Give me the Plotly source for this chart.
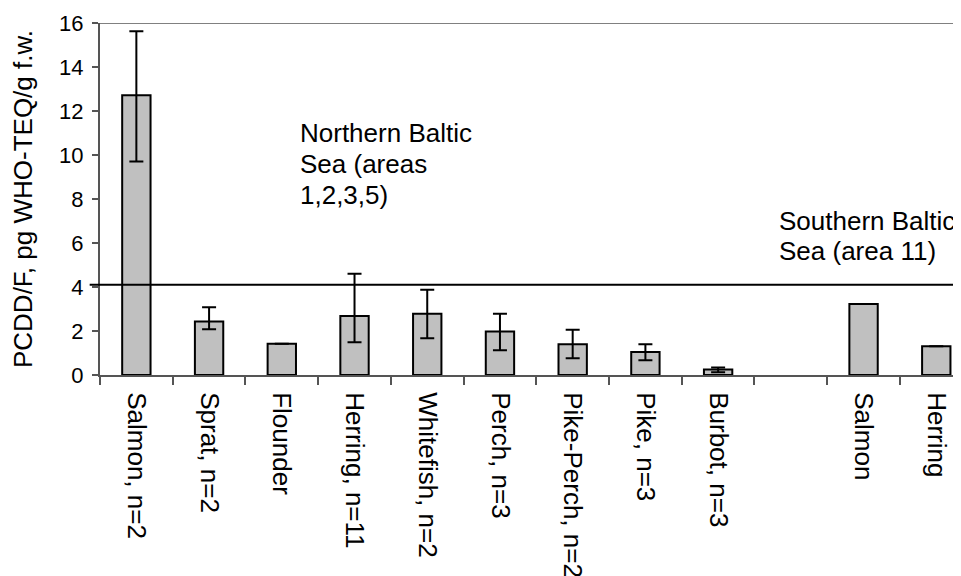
import plotly.graph_objects as go

categories = ["Salmon, n=2", "Sprat, n=2", "Flounder", "Herring, n=11", "Whitefish, n=2",
              "Perch, n=3", "Pike-Perch, n=2", "Pike, n=3", "Burbot, n=3", " ", "Salmon", "Herring"]
values = [12.72, 2.43, 1.42, 2.68, 2.78, 1.98, 1.40, 1.04, 0.25, None, 3.23, 1.31]
err_plus = [2.90, 0.65, 0, 1.92, 1.10, 0.80, 0.66, 0.36, 0.09, None, 0, 0]
err_minus = [3.02, 0.35, 0, 1.19, 1.11, 0.85, 0.64, 0.37, 0.12, None, 0, 0]
limit_value = 4.1
y_ticks = [0, 2, 4, 6, 8, 10, 12, 14, 16]
north_lines = ["Northern Baltic", "Sea (areas", "1,2,3,5)"]
south_lines = ["Southern Baltic", "Sea (area 11)"]

FONT = "Liberation Sans, Arial, sans-serif"

fig = go.Figure()
fig.add_trace(go.Bar(
    x=categories, y=values, width=0.39,
    marker=dict(color="#c0c0c0", line=dict(color="black", width=2)),
    error_y=dict(type="data", array=err_plus, arrayminus=err_minus, symmetric=False,
                 color="black", thickness=2, width=7),
    showlegend=False,
))

fig.add_shape(type="line", xref="paper", yref="y", x0=-0.012, x1=1, y0=limit_value, y1=limit_value,
              line=dict(color="black", width=2))
fig.add_shape(type="line", xref="paper", yref="y", x0=0, x1=1, y0=16, y1=16,
              line=dict(color="#808080", width=2))

for i, line in enumerate(north_lines):
    fig.add_annotation(text=line, xref="paper", yref="y", x=0.230, y=11.0 - 1.41 * i,
                       xanchor="left", yanchor="middle", align="left", showarrow=False,
                       font=dict(family=FONT, size=26, color="black"))
for i, line in enumerate(south_lines):
    fig.add_annotation(text=line, xref="paper", yref="y", x=0.7865, y=7.0 - 1.38 * i,
                       xanchor="left", yanchor="middle", align="left", showarrow=False,
                       font=dict(family=FONT, size=26, color="black"))

fig.update_layout(
    width=953, height=568,
    margin=dict(l=92, r=0, t=15, b=201),
    paper_bgcolor="white", plot_bgcolor="white",
    font=dict(family=FONT, color="black"),
    bargap=0.6,
)
fig.update_xaxes(
    type="category", categoryorder="array", categoryarray=categories, automargin=False,
    range=[-0.5, 11.34], tickson="boundaries", ticks="outside", ticklen=8, tickwidth=1.5,
    tickcolor="#555555", showline=True, linecolor="#555555", linewidth=2, ticklabelstandoff=10,
    tickangle=90, tickfont=dict(family=FONT, size=26, color="black"), showgrid=False,
)
fig.update_yaxes(
    range=[0, 16], tickvals=y_ticks, ticks="outside", ticklen=6, tickwidth=1.5, automargin=False,
    tickcolor="#555555", showline=True, linecolor="#555555", linewidth=2, showgrid=False,
    zeroline=False, tickfont=dict(family=FONT, size=22, color="black"), ticklabelstandoff=4,
    title=dict(text="PCDD/F, pg WHO-TEQ/g f.w.", font=dict(family=FONT, size=26, color="black"),
               standoff=20),
)

fig.write_html("out.html")
